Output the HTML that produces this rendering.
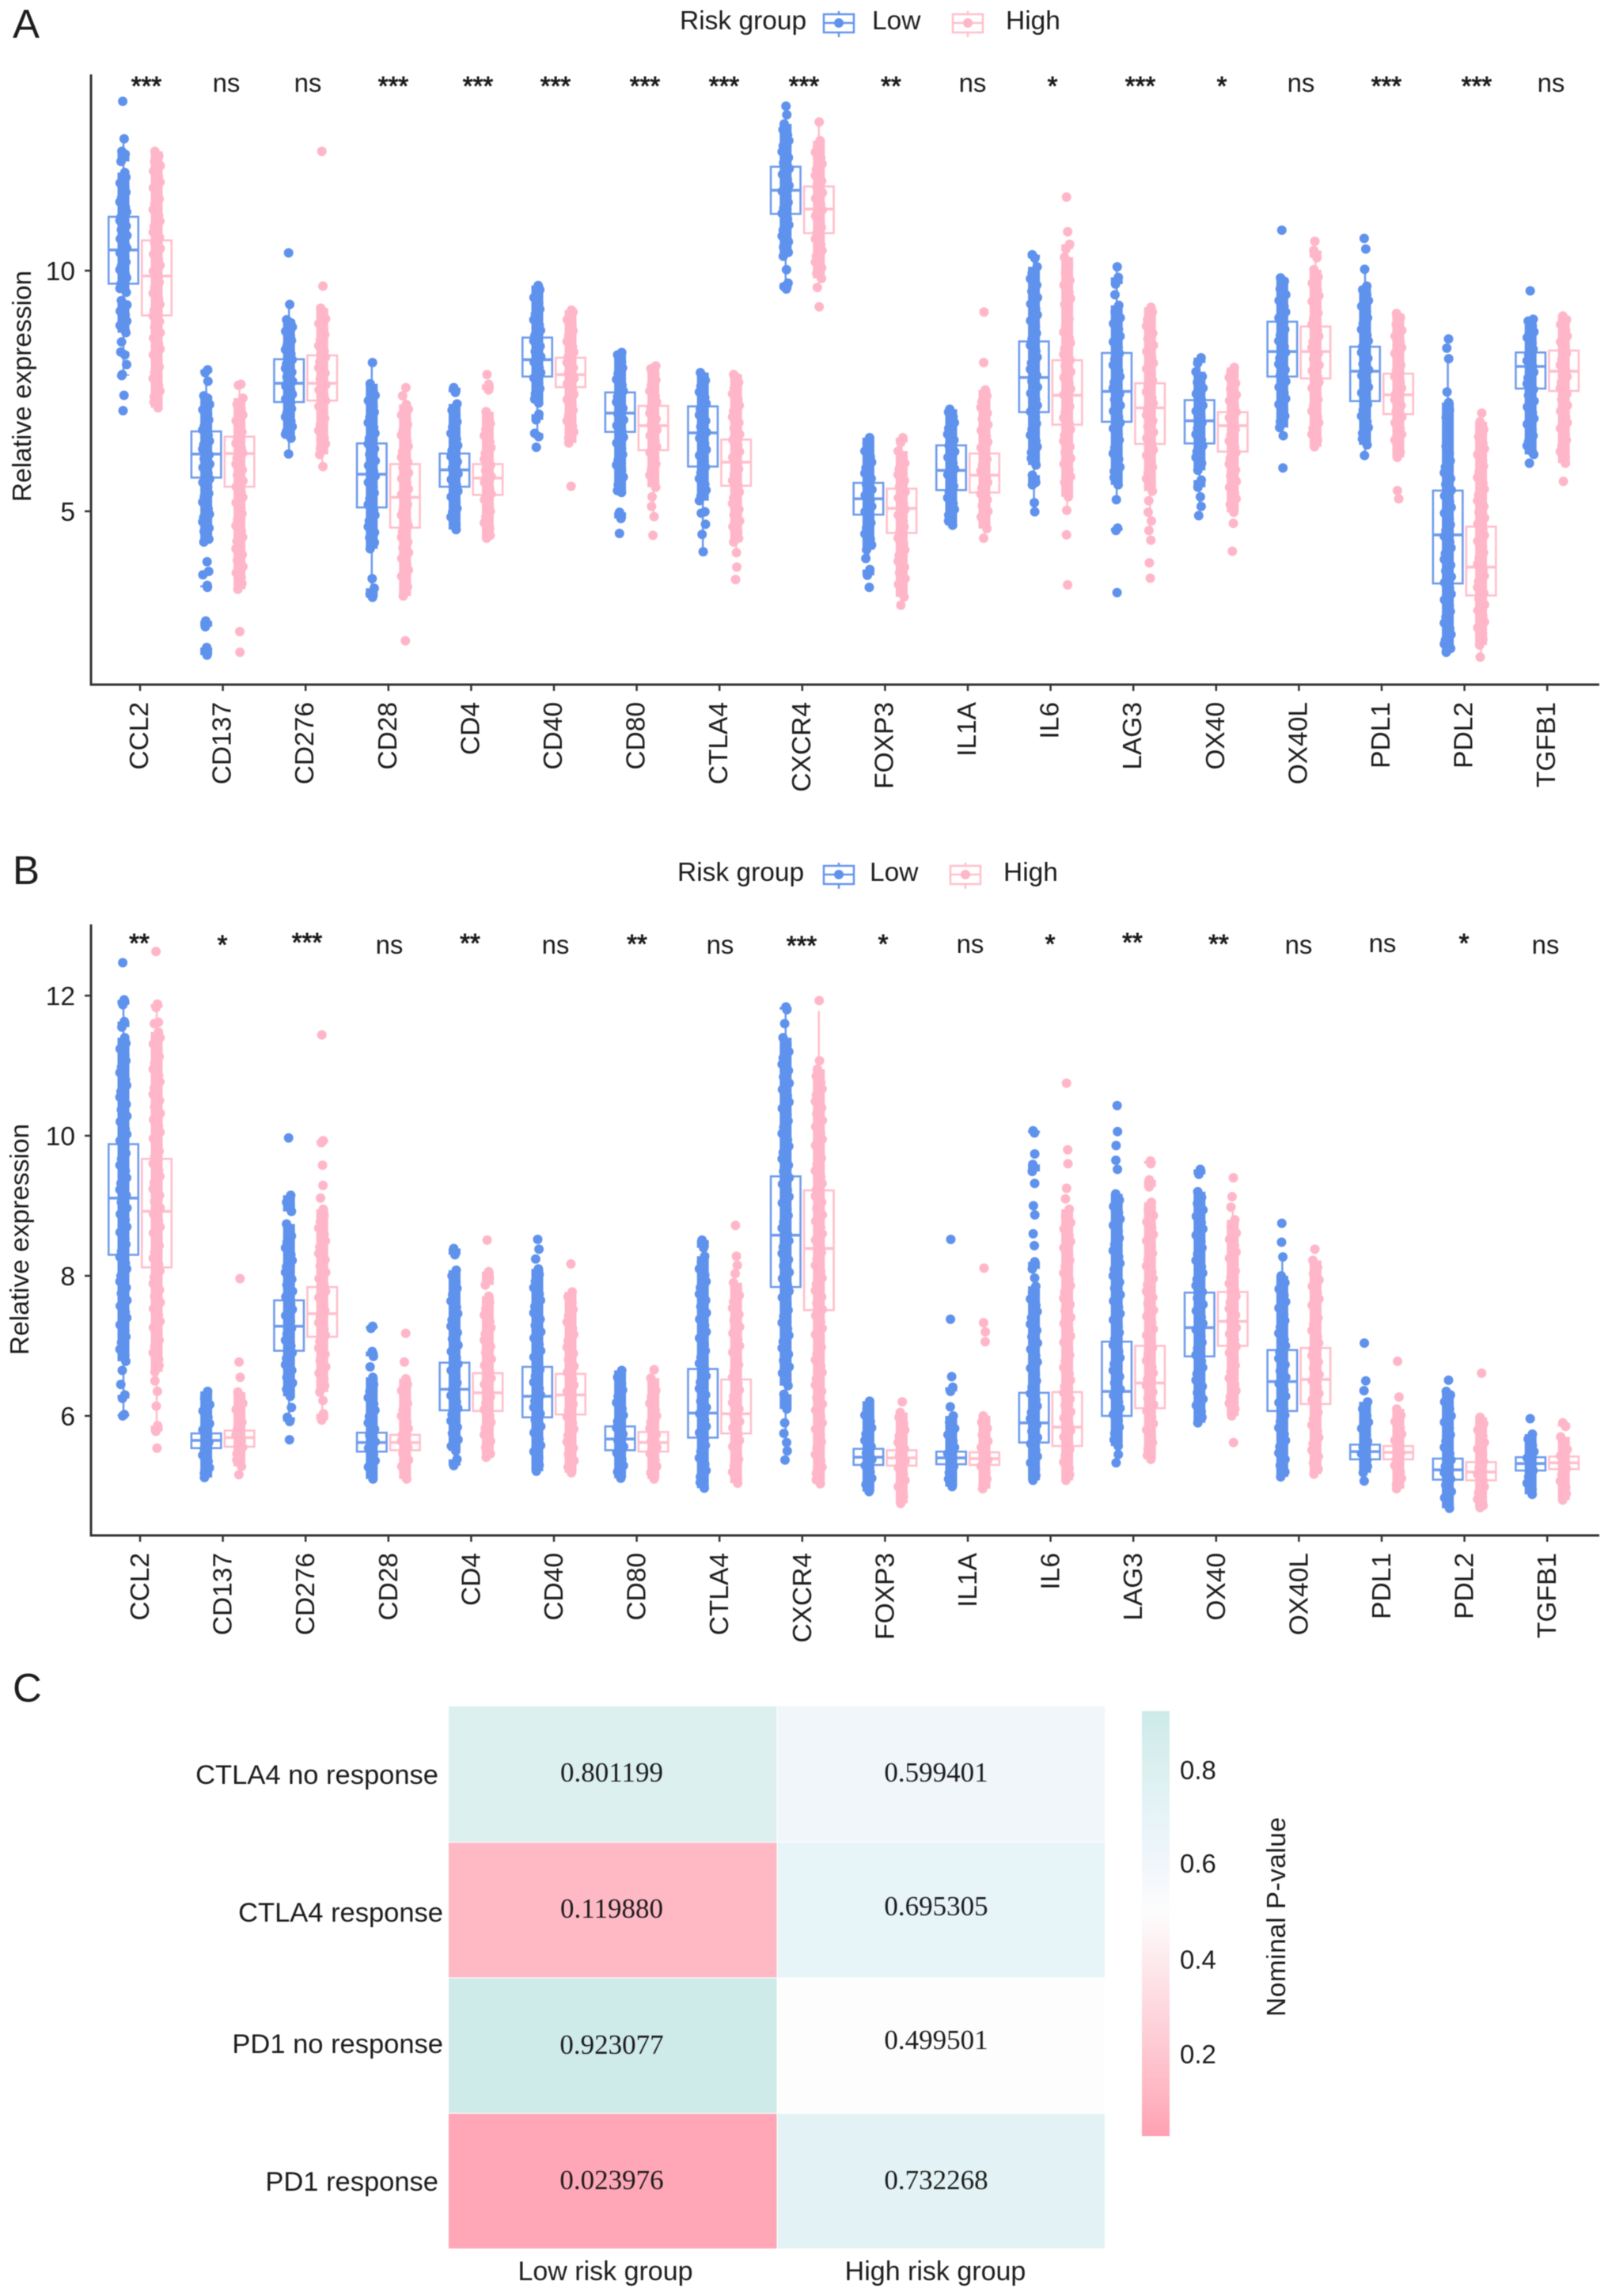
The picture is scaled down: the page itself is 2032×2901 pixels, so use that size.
<!DOCTYPE html>
<html lang="en">
<head>
<meta charset="utf-8">
<title>Immune checkpoint expression by risk group</title>
<style>
html,body{margin:0;padding:0;background:#fff;}
svg{display:block;filter:blur(0.6px);}
text{font-family:"Liberation Sans",sans-serif;fill:#1c1c1c;}
.t33{font-size:33.5px;}
.sig{font-size:33px;text-anchor:middle;}
.st{stroke:#1c1c1c;stroke-width:0.9px;}
.panel{font-size:51px;}
</style>
</head>
<body>
<svg id="fig" xmlns="http://www.w3.org/2000/svg" width="2032" height="2901" viewBox="0 0 2032 2901">
<defs>
<linearGradient id="cbar" x1="0" y1="0" x2="0" y2="1">
<stop offset="0" stop-color="#CDEBE9"/><stop offset="0.14" stop-color="#DCF0F0"/><stop offset="0.25" stop-color="#E7F4F8"/><stop offset="0.36" stop-color="#F1F6FB"/><stop offset="0.47" stop-color="#FDFDFD"/><stop offset="0.89" stop-color="#FFB9C5"/><stop offset="1" stop-color="#FFA0B2"/>
</linearGradient>
</defs>

<text class="panel" x="16" y="48">A</text>
<text class="panel" x="16" y="1117">B</text>
<text class="panel" x="16" y="2150">C</text>

<text class="t33" transform="translate(39,488) rotate(-90)" text-anchor="middle">Relative expression</text>
<text class="t33" transform="translate(36,1566) rotate(-90)" text-anchor="middle">Relative expression</text>

<g>
<text class="t33" x="859" y="37">Risk group</text>
<g>
<path d="M1060 14V47" stroke="#6495ED" stroke-width="2.5" fill="none"/><rect x="1041" y="18" width="38" height="23" fill="#fff" stroke="#6495ED" stroke-width="2.5"/><path d="M1041 29H1079" stroke="#6495ED" stroke-width="2.5"/><circle cx="1060" cy="29" r="6" fill="#5F92EC"/>
</g>
<text class="t33" x="1102" y="37">Low</text>
<g>
<path d="M1223 14V47" stroke="#FFC0CB" stroke-width="2.5" fill="none"/><rect x="1204" y="18" width="38" height="23" fill="#fff" stroke="#FFC0CB" stroke-width="2.5"/><path d="M1204 29H1242" stroke="#FFC0CB" stroke-width="2.5"/><circle cx="1223" cy="29" r="6" fill="#FFB6C8"/>
</g>
<text class="t33" x="1271" y="37">High</text>
</g>

<g>
<text class="t33" x="856" y="1113">Risk group</text>
<g>
<path d="M1060 1090V1123" stroke="#6495ED" stroke-width="2.5" fill="none"/><rect x="1041" y="1094" width="38" height="23" fill="#fff" stroke="#6495ED" stroke-width="2.5"/><path d="M1041 1105H1079" stroke="#6495ED" stroke-width="2.5"/><circle cx="1060" cy="1105" r="6" fill="#5F92EC"/>
</g>
<text class="t33" x="1099" y="1113">Low</text>
<g>
<path d="M1220 1090V1123" stroke="#FFC0CB" stroke-width="2.5" fill="none"/><rect x="1201" y="1094" width="38" height="23" fill="#fff" stroke="#FFC0CB" stroke-width="2.5"/><path d="M1201 1105H1239" stroke="#FFC0CB" stroke-width="2.5"/><circle cx="1220" cy="1105" r="6" fill="#FFB6C8"/>
</g>
<text class="t33" x="1268" y="1113">High</text>
</g>

<g>
<text class="sig st" x="185" y="120">***</text>
<text class="sig" x="286" y="116">ns</text>
<text class="sig" x="389" y="116">ns</text>
<text class="sig st" x="497" y="120">***</text>
<text class="sig st" x="604" y="120">***</text>
<text class="sig st" x="702" y="120">***</text>
<text class="sig st" x="815" y="120">***</text>
<text class="sig st" x="915" y="120">***</text>
<text class="sig st" x="1016" y="120">***</text>
<text class="sig st" x="1126" y="120">**</text>
<text class="sig" x="1229" y="116">ns</text>
<text class="sig st" x="1330" y="120">*</text>
<text class="sig st" x="1441" y="120">***</text>
<text class="sig st" x="1544" y="120">*</text>
<text class="sig" x="1644" y="116">ns</text>
<text class="sig st" x="1752" y="120">***</text>
<text class="sig st" x="1866" y="120">***</text>
<text class="sig" x="1960" y="116">ns</text>
</g>
<g>
<text class="sig st" x="176" y="1203">**</text>
<text class="sig st" x="281" y="1205">*</text>
<text class="sig st" x="388" y="1202">***</text>
<text class="sig" x="492" y="1205">ns</text>
<text class="sig st" x="594" y="1203">**</text>
<text class="sig" x="702" y="1205">ns</text>
<text class="sig st" x="805" y="1204">**</text>
<text class="sig" x="910" y="1205">ns</text>
<text class="sig st" x="1013" y="1206">***</text>
<text class="sig st" x="1116" y="1204">*</text>
<text class="sig" x="1226" y="1204">ns</text>
<text class="sig st" x="1327" y="1204">*</text>
<text class="sig st" x="1431" y="1202">**</text>
<text class="sig st" x="1540" y="1204">**</text>
<text class="sig" x="1641" y="1205">ns</text>
<text class="sig" x="1747" y="1203">ns</text>
<text class="sig st" x="1850" y="1203">*</text>
<text class="sig" x="1953" y="1205">ns</text>
</g>

<g id="plotA"></g>
<g id="plotB"></g>
<g id="heat"></g>

<rect x="1443" y="2162" width="35" height="537" fill="url(#cbar)"/>
<text class="t33" transform="translate(1624,2422) rotate(-90)" text-anchor="middle" textLength="252">Nominal P-value</text>
</svg>

<script>
const genes = ["CCL2","CD137","CD276","CD28","CD4","CD40","CD80","CTLA4","CXCR4","FOXP3","IL1A","IL6","LAG3","OX40","OX40L","PDL1","PDL2","TGFB1"];
const ticksA = [5,10];
const ticksB = [6,8,10,12];

// box stats per gene: [lower whisker, q1, median, q3, upper whisker]
const boxALow = [[7.82,9.73,10.43,11.12,12.74],[4.36,5.70,6.19,6.66,7.94],[6.19,7.27,7.66,8.16,9.30],[3.21,5.08,5.77,6.41,8.09],[4.62,5.51,5.86,6.20,7.23],[6.62,7.80,8.15,8.61,9.69],[5.43,6.65,7.04,7.47,8.30],[4.16,5.93,6.63,7.18,7.88],[9.74,11.18,11.67,12.16,13.42],[4.02,4.93,5.26,5.59,6.53],[4.71,5.44,5.85,6.37,7.12],[4.99,7.06,7.78,8.53,10.33],[5.24,6.86,7.49,8.29,10.08],[5.10,6.41,6.88,7.31,8.19],[6.57,7.80,8.32,8.94,9.85],[6.16,7.29,7.91,8.42,10.03],[2.07,3.50,4.51,5.43,8.17],[6.45,7.55,8.01,8.30,8.99]];
const boxAHigh = [[7.15,9.07,9.89,10.63,12.48],[3.95,5.51,6.20,6.55,7.64],[5.93,7.30,7.66,8.24,9.22],[3.24,4.66,5.29,5.98,7.57],[4.44,5.34,5.69,5.98,6.94],[6.66,7.58,7.84,8.19,9.10],[4.89,6.27,6.78,7.19,8.02],[4.14,5.53,6.02,6.49,7.84],[9.65,10.78,11.28,11.75,13.09],[3.22,4.55,5.06,5.47,6.53],[4.44,5.39,5.75,6.20,7.40],[5.02,6.80,7.41,8.14,10.15],[4.60,6.40,7.15,7.66,9.24],[5.14,6.24,6.78,7.06,7.99],[6.34,7.76,8.32,8.84,10.42],[6.12,7.02,7.42,7.86,9.11],[1.97,3.25,3.84,4.68,6.86],[6.24,7.50,7.91,8.34,9.06]];
const boxBLow = [[6.00,8.30,9.11,9.88,11.94],[5.23,5.54,5.65,5.75,6.06],[5.94,6.93,7.28,7.65,8.73],[5.10,5.49,5.62,5.76,6.16],[5.29,6.08,6.38,6.76,7.78],[5.21,5.98,6.28,6.70,7.78],[5.11,5.51,5.67,5.85,6.36],[5.00,5.69,6.04,6.67,8.14],[5.47,7.84,8.58,9.42,11.80],[4.95,5.30,5.41,5.53,5.87],[5.04,5.31,5.40,5.49,5.76],[5.08,5.62,5.90,6.33,7.40],[5.33,6.00,6.35,7.06,8.65],[5.98,6.85,7.26,7.76,9.12],[5.13,6.07,6.49,6.94,8.24],[5.07,5.38,5.49,5.59,5.90],[4.68,5.09,5.23,5.39,5.84],[4.94,5.22,5.32,5.41,5.69]];
const boxBHigh = [[5.79,8.12,8.92,9.67,11.88],[5.22,5.56,5.69,5.79,6.14],[6.07,7.13,7.46,7.84,8.90],[5.18,5.51,5.62,5.73,6.06],[5.41,6.07,6.33,6.61,7.42],[5.19,6.02,6.30,6.60,7.47],[5.10,5.49,5.62,5.77,6.19],[5.04,5.75,6.03,6.52,7.67],[5.03,7.51,8.39,9.22,11.78],[4.96,5.29,5.40,5.51,5.84],[5.03,5.30,5.39,5.48,5.75],[5.08,5.57,5.84,6.34,7.49],[5.38,6.11,6.47,7.00,8.33],[6.00,7.00,7.35,7.77,8.92],[5.17,6.17,6.52,6.97,8.17],[5.10,5.38,5.48,5.57,5.85],[4.69,5.08,5.20,5.34,5.73],[4.97,5.24,5.33,5.42,5.69]];

// individual sample values per gene, panel A
const pointsALow = [
[13.52,12.74,12.48,12.42,12.27,12.04,11.94,11.82,11.74,11.63,11.51,11.43,11.32,11.22,11.11,11.04,10.93,10.85,10.73,10.66,10.54,10.47,10.37,10.29,10.18,10.1,10.02,9.92,9.85,9.72,9.63,9.55,9.38,9.29,9.16,9.08,8.95,8.86,8.78,8.71,8.52,8.31,8.25,8.05,7.84,7.82,7.41,7.09],
[7.94,7.88,7.7,7.4,7.35,7.22,7.11,7.01,6.9,6.77,6.69,6.58,6.46,6.38,6.29,6.17,6.09,5.98,5.91,5.79,5.67,5.6,5.5,5.37,5.3,5.19,5.05,4.94,4.87,4.78,4.65,4.58,4.42,4.36,3.95,3.75,3.68,3.46,3.42,2.72,2.6,2.17,2.01],
[10.37,9.3,8.98,8.92,8.83,8.74,8.63,8.55,8.44,8.36,8.27,8.15,8.06,7.97,7.89,7.79,7.7,7.6,7.51,7.43,7.33,7.24,7.13,7.05,6.96,6.87,6.76,6.66,6.6,6.52,6.19],
[8.09,7.65,7.5,7.41,7.3,7.18,7.06,6.95,6.84,6.74,6.62,6.51,6.4,6.3,6.18,6.05,5.95,5.83,5.73,5.6,5.5,5.38,5.26,5.14,5.02,4.92,4.8,4.68,4.56,4.45,4.35,4.22,3.6,3.4,3.28,3.21],
[7.57,7.47,7.23,7.1,6.98,6.86,6.75,6.62,6.5,6.37,6.26,6.14,6.03,5.9,5.78,5.66,5.55,5.42,5.3,5.18,5.06,4.98,4.88,4.72,4.62],
[9.69,9.6,9.44,9.32,9.2,9.1,8.98,8.87,8.76,8.65,8.54,8.43,8.32,8.21,8.1,7.99,7.88,7.77,7.66,7.55,7.44,7.33,7.25,7.02,6.9,6.62,6.55,6.33],
[8.3,8.25,8.1,7.98,7.86,7.74,7.62,7.5,7.38,7.27,7.14,7.02,6.9,6.78,6.66,6.54,6.42,6.3,6.18,6.06,5.96,5.85,5.71,5.55,5.43,5.39,4.98,4.85,4.54],
[7.88,7.8,7.72,7.6,7.48,7.36,7.24,7.12,7.0,6.88,6.76,6.64,6.52,6.4,6.28,6.16,6.04,5.92,5.8,5.68,5.56,5.44,5.32,5.22,4.99,4.96,4.73,4.52,4.16],
[13.42,13.24,13.05,12.93,12.82,12.7,12.59,12.47,12.35,12.24,12.12,12.0,11.89,11.77,11.65,11.54,11.42,11.3,11.19,11.07,10.95,10.84,10.72,10.6,10.49,10.38,10.3,10.02,9.74,9.67,9.62],
[6.53,6.41,6.25,6.13,6.02,5.9,5.79,5.68,5.56,5.45,5.33,5.22,5.1,4.99,4.87,4.76,4.65,4.53,4.42,4.3,4.2,4.02,3.79,3.67,3.42],
[7.12,7.06,6.96,6.84,6.72,6.6,6.48,6.36,6.24,6.12,6.0,5.88,5.76,5.64,5.52,5.4,5.28,5.16,5.04,4.92,4.8,4.71],
[10.33,10.26,10.08,9.95,9.83,9.7,9.57,9.44,9.31,9.2,9.08,8.96,8.83,8.7,8.58,8.45,8.33,8.2,8.08,7.95,7.82,7.7,7.58,7.45,7.32,7.2,7.07,6.95,6.82,6.7,6.58,6.46,6.34,6.22,6.1,5.96,5.75,5.6,5.55,5.18,4.99],
[10.08,9.86,9.72,9.5,9.28,9.14,9.02,8.9,8.78,8.64,8.52,8.4,8.28,8.16,8.04,7.92,7.8,7.68,7.56,7.44,7.32,7.2,7.08,6.96,6.84,6.72,6.6,6.48,6.32,6.2,6.08,5.92,5.83,5.7,5.55,5.24,4.65,4.6,3.31],
[8.19,8.08,7.9,7.8,7.68,7.56,7.44,7.32,7.2,7.08,6.96,6.84,6.72,6.6,6.48,6.36,6.24,6.12,6.0,5.85,5.65,5.5,5.3,5.1,4.91],
[10.84,9.85,9.78,9.62,9.5,9.38,9.26,9.14,9.02,8.9,8.78,8.66,8.54,8.42,8.3,8.18,8.06,7.94,7.82,7.7,7.58,7.46,7.34,7.22,7.1,6.98,6.86,6.74,6.57,5.9],
[10.67,10.45,10.03,9.68,9.6,9.5,9.38,9.26,9.14,9.02,8.9,8.78,8.66,8.54,8.42,8.3,8.18,8.06,7.94,7.82,7.7,7.58,7.46,7.34,7.22,7.1,6.98,6.86,6.74,6.62,6.5,6.38,6.16],
[8.58,8.39,8.17,7.48,7.26,7.1,6.95,6.8,6.65,6.5,6.35,6.2,6.05,5.92,5.8,5.68,5.56,5.44,5.32,5.2,5.08,4.96,4.84,4.72,4.6,4.48,4.36,4.24,4.12,4.0,3.88,3.76,3.64,3.52,3.4,3.28,3.16,3.04,2.92,2.8,2.68,2.56,2.44,2.32,2.24,2.15,2.07],
[9.58,8.99,8.95,8.85,8.73,8.61,8.49,8.37,8.25,8.13,8.01,7.89,7.77,7.65,7.53,7.41,7.29,7.17,7.05,6.93,6.81,6.69,6.57,6.45,6.36,6.22,6.18,6.0]
];
const pointsAHigh = [
[12.48,12.39,12.27,12.18,12.07,11.96,11.84,11.72,11.61,11.49,11.38,11.27,11.15,11.03,10.92,10.8,10.69,10.58,10.46,10.34,10.23,10.11,9.99,9.88,9.76,9.65,9.53,9.41,9.3,9.18,9.06,8.94,8.83,8.71,8.6,8.48,8.37,8.25,8.12,8.0,7.88,7.76,7.62,7.5,7.38,7.27,7.15],
[7.64,7.62,7.35,7.22,7.1,7.0,6.88,6.76,6.65,6.52,6.41,6.3,6.21,6.1,5.98,5.86,5.75,5.63,5.51,5.4,5.29,5.18,5.06,4.95,4.82,4.7,4.58,4.46,4.38,4.22,4.1,3.98,3.85,3.72,3.62,3.5,3.38,2.5,2.07],
[12.48,9.68,9.22,9.15,9.0,8.9,8.78,8.67,8.56,8.44,8.33,8.2,8.1,7.98,7.87,7.75,7.63,7.52,7.4,7.3,7.18,7.05,6.93,6.8,6.68,6.52,6.4,6.3,6.18,5.93],
[7.57,7.4,7.22,7.12,7.0,6.9,6.8,6.68,6.58,6.46,6.35,6.24,6.12,6.02,5.9,5.8,5.68,5.58,5.46,5.35,5.24,5.14,5.02,4.92,4.8,4.7,4.58,4.46,4.36,4.24,4.14,4.02,3.9,3.78,3.65,3.55,3.43,3.28,3.24,2.31],
[7.84,7.64,7.52,7.07,6.95,6.82,6.7,6.57,6.44,6.32,6.2,6.08,5.96,5.84,5.72,5.6,5.48,5.36,5.24,5.12,5.0,4.88,4.76,4.64,4.5,4.44],
[9.18,9.14,8.98,8.86,8.75,8.64,8.53,8.42,8.31,8.2,8.09,7.98,7.87,7.76,7.65,7.54,7.43,7.32,7.21,7.1,6.99,6.88,6.77,6.65,6.52,6.42,5.52],
[8.02,7.96,7.85,7.73,7.62,7.5,7.38,7.27,7.15,7.04,6.92,6.8,6.69,6.57,6.46,6.34,6.22,6.1,5.98,5.87,5.75,5.63,5.5,5.3,5.1,4.89,4.5],
[7.84,7.78,7.68,7.56,7.44,7.32,7.2,7.08,6.96,6.84,6.72,6.6,6.48,6.36,6.24,6.12,6.0,5.88,5.76,5.64,5.52,5.4,5.28,5.16,5.04,4.92,4.8,4.68,4.56,4.44,4.36,4.14,3.84,3.58],
[13.09,12.7,12.58,12.46,12.34,12.22,12.1,11.98,11.86,11.74,11.62,11.5,11.38,11.26,11.14,11.02,10.9,10.78,10.66,10.54,10.42,10.3,10.18,10.06,9.94,9.84,9.65,9.25],
[6.53,6.43,6.25,6.12,6.0,5.88,5.76,5.64,5.52,5.4,5.28,5.16,5.04,4.92,4.8,4.68,4.56,4.44,4.32,4.2,4.08,3.96,3.84,3.72,3.6,3.48,3.36,3.22,3.05],
[9.14,8.09,7.52,7.4,7.28,7.16,7.04,6.92,6.8,6.68,6.56,6.44,6.32,6.2,6.08,5.96,5.84,5.72,5.6,5.48,5.36,5.24,5.12,5.0,4.88,4.76,4.64,4.44],
[11.53,10.81,10.55,10.45,10.28,10.12,9.96,9.8,9.7,9.55,9.42,9.3,9.16,9.0,8.85,8.72,8.6,8.5,8.38,8.26,8.14,8.02,7.9,7.78,7.66,7.54,7.42,7.3,7.18,7.06,6.94,6.82,6.7,6.58,6.46,6.34,6.22,6.1,5.98,5.86,5.72,5.6,5.45,5.3,5.02,4.51,3.47],
[9.24,9.14,8.98,8.85,8.7,8.58,8.45,8.32,8.2,8.08,7.96,7.84,7.72,7.6,7.48,7.36,7.24,7.12,7.0,6.88,6.76,6.64,6.52,6.4,6.28,6.16,6.04,5.92,5.8,5.68,5.56,5.42,5.22,4.98,4.8,4.6,4.4,3.93,3.61],
[7.99,7.9,7.78,7.66,7.54,7.42,7.3,7.18,7.06,6.94,6.82,6.7,6.58,6.46,6.34,6.22,6.1,5.98,5.86,5.74,5.62,5.5,5.38,5.26,5.14,4.98,4.75,4.17],
[10.61,10.42,10.27,10.02,9.87,9.74,9.6,9.48,9.36,9.24,9.12,9.0,8.88,8.76,8.64,8.52,8.4,8.28,8.16,8.04,7.92,7.8,7.68,7.56,7.44,7.32,7.2,7.08,6.96,6.84,6.72,6.6,6.48,6.34],
[9.11,9.02,8.88,8.76,8.64,8.52,8.4,8.28,8.16,8.04,7.92,7.8,7.68,7.56,7.44,7.32,7.2,7.08,6.96,6.84,6.72,6.6,6.48,6.36,6.24,6.12,5.43,5.26],
[7.04,6.86,6.7,6.55,6.42,6.3,6.18,6.06,5.94,5.82,5.7,5.58,5.46,5.34,5.22,5.1,4.98,4.86,4.74,4.62,4.5,4.38,4.26,4.14,4.02,3.9,3.78,3.66,3.54,3.42,3.3,3.18,3.06,2.94,2.82,2.7,2.58,2.46,2.34,2.22,1.97],
[9.06,8.98,8.88,8.76,8.64,8.52,8.4,8.28,8.16,8.04,7.92,7.8,7.68,7.56,7.44,7.32,7.2,7.08,6.96,6.84,6.72,6.6,6.48,6.36,6.24,6.12,6.0,5.62]
];

// individual sample values per gene, panel B
const pointsBLow = [
[12.47,11.94,11.87,11.63,11.55,11.4,11.32,11.24,11.15,11.07,10.98,10.9,10.8,10.72,10.63,10.55,10.45,10.37,10.28,10.2,10.1,10.02,9.93,9.85,9.75,9.67,9.58,9.5,9.4,9.32,9.23,9.15,9.05,8.97,8.88,8.8,8.7,8.62,8.53,8.45,8.35,8.27,8.18,8.1,8.0,7.92,7.83,7.75,7.65,7.57,7.48,7.4,7.3,7.22,7.13,7.05,6.95,6.87,6.78,6.65,6.45,6.3,6.25,6.02,6.0],
[6.35,6.25,6.16,6.07,5.98,5.89,5.8,5.71,5.62,5.53,5.44,5.35,5.26,5.18,5.12],
[9.97,9.15,9.05,9.0,8.92,8.74,8.65,8.57,8.48,8.4,8.3,8.22,8.13,8.05,7.95,7.87,7.78,7.7,7.6,7.52,7.43,7.35,7.25,7.17,7.08,7.0,6.9,6.82,6.73,6.65,6.55,6.47,6.38,6.28,6.12,5.98,5.92,5.66],
[7.28,7.25,6.92,6.85,6.7,6.55,6.45,6.35,6.26,6.17,6.08,5.99,5.9,5.81,5.72,5.63,5.54,5.45,5.36,5.27,5.18,5.1],
[8.39,8.3,8.08,8.0,7.91,7.82,7.73,7.64,7.55,7.46,7.37,7.28,7.19,7.1,7.01,6.92,6.83,6.74,6.65,6.56,6.47,6.38,6.29,6.2,6.11,6.02,5.93,5.84,5.75,5.66,5.57,5.5,5.38,5.29],
[8.52,8.38,8.24,8.1,8.02,7.92,7.83,7.74,7.65,7.56,7.47,7.38,7.29,7.2,7.11,7.02,6.93,6.84,6.75,6.66,6.57,6.48,6.39,6.3,6.21,6.12,6.03,5.94,5.85,5.76,5.67,5.58,5.49,5.4,5.3,5.21],
[6.65,6.55,6.46,6.37,6.28,6.19,6.1,6.01,5.92,5.83,5.74,5.65,5.56,5.47,5.38,5.29,5.2,5.11],
[8.51,8.4,8.28,8.19,8.1,8.01,7.92,7.83,7.74,7.65,7.56,7.47,7.38,7.29,7.2,7.11,7.02,6.93,6.84,6.75,6.66,6.57,6.48,6.39,6.3,6.21,6.12,6.03,5.94,5.85,5.76,5.67,5.58,5.49,5.4,5.31,5.22,5.13,5.05,4.97],
[11.84,11.8,11.6,11.4,11.3,11.2,11.11,11.02,10.93,10.84,10.75,10.66,10.57,10.48,10.39,10.3,10.21,10.12,10.03,9.94,9.85,9.76,9.67,9.58,9.49,9.4,9.31,9.22,9.13,9.04,8.95,8.86,8.77,8.68,8.59,8.5,8.41,8.32,8.23,8.14,8.05,7.96,7.87,7.78,7.69,7.6,7.51,7.42,7.33,7.24,7.15,7.06,6.97,6.88,6.79,6.7,6.61,6.52,6.43,6.31,6.2,6.1,5.9,5.75,5.62,5.5,5.37],
[6.21,6.1,6.01,5.92,5.83,5.74,5.65,5.56,5.47,5.38,5.29,5.2,5.11,5.02,4.92],
[8.52,7.38,6.56,6.41,6.35,6.13,6.0,5.91,5.82,5.73,5.64,5.55,5.46,5.37,5.28,5.19,5.1,4.99],
[10.07,10.04,9.74,9.59,9.49,9.32,9.0,8.87,8.6,8.43,8.2,8.1,7.97,7.85,7.76,7.67,7.58,7.49,7.4,7.31,7.22,7.13,7.04,6.95,6.86,6.77,6.68,6.59,6.5,6.41,6.32,6.23,6.14,6.05,5.96,5.87,5.78,5.69,5.6,5.51,5.42,5.33,5.24,5.15,5.08],
[10.43,10.06,9.86,9.65,9.52,9.17,9.08,8.99,8.9,8.81,8.72,8.63,8.54,8.45,8.36,8.27,8.18,8.09,8.0,7.91,7.82,7.73,7.64,7.55,7.46,7.37,7.28,7.19,7.1,7.01,6.92,6.83,6.74,6.65,6.56,6.47,6.38,6.29,6.2,6.11,6.02,5.93,5.84,5.75,5.66,5.57,5.45,5.33],
[9.52,9.45,9.2,9.12,9.03,8.94,8.85,8.76,8.67,8.58,8.49,8.4,8.31,8.22,8.13,8.04,7.95,7.86,7.77,7.68,7.59,7.5,7.41,7.32,7.23,7.14,7.05,6.96,6.87,6.78,6.69,6.6,6.51,6.42,6.33,6.24,6.15,6.06,5.98,5.9],
[8.75,8.48,8.27,8.0,7.9,7.81,7.72,7.63,7.54,7.45,7.36,7.27,7.18,7.09,7.0,6.91,6.82,6.73,6.64,6.55,6.46,6.37,6.28,6.19,6.1,6.01,5.92,5.83,5.74,5.65,5.56,5.47,5.38,5.29,5.2,5.13],
[7.04,6.5,6.36,6.2,6.1,6.0,5.91,5.82,5.73,5.64,5.55,5.46,5.37,5.28,5.19,5.07],
[6.51,6.35,6.3,6.2,6.1,6.0,5.91,5.82,5.73,5.64,5.55,5.46,5.37,5.28,5.19,5.1,5.01,4.92,4.83,4.74,4.68],
[5.96,5.74,5.67,5.58,5.49,5.4,5.31,5.22,5.13,5.04,4.95,4.88]
];
const pointsBHigh = [
[12.63,11.88,11.83,11.62,11.6,11.48,11.4,11.31,11.22,11.13,11.04,10.95,10.86,10.77,10.68,10.59,10.5,10.41,10.32,10.23,10.14,10.05,9.96,9.87,9.78,9.69,9.6,9.51,9.42,9.33,9.24,9.15,9.06,8.97,8.88,8.79,8.7,8.61,8.52,8.43,8.34,8.25,8.16,8.07,7.98,7.89,7.8,7.71,7.62,7.53,7.44,7.35,7.26,7.17,7.08,6.99,6.9,6.81,6.72,6.63,6.5,6.35,6.14,5.86,5.78,5.54],
[7.96,6.77,6.55,6.34,6.27,6.18,6.09,6.0,5.91,5.82,5.73,5.64,5.55,5.46,5.37,5.28,5.16],
[11.44,9.93,9.9,9.58,9.29,9.11,8.95,8.86,8.77,8.68,8.59,8.5,8.41,8.32,8.23,8.14,8.05,7.96,7.87,7.78,7.69,7.6,7.51,7.42,7.33,7.24,7.15,7.06,6.97,6.88,6.79,6.7,6.61,6.52,6.43,6.34,6.22,6.03,5.94],
[7.18,6.77,6.53,6.45,6.36,6.27,6.18,6.09,6.0,5.91,5.82,5.73,5.64,5.55,5.46,5.37,5.28,5.19,5.1],
[8.51,8.06,7.97,7.87,7.71,7.62,7.53,7.44,7.35,7.26,7.17,7.08,6.99,6.9,6.81,6.72,6.63,6.54,6.45,6.36,6.27,6.18,6.09,6.0,5.91,5.82,5.73,5.64,5.55,5.46,5.41],
[8.17,7.77,7.7,7.61,7.52,7.43,7.34,7.25,7.16,7.07,6.98,6.89,6.8,6.71,6.62,6.53,6.44,6.35,6.26,6.17,6.08,5.99,5.9,5.81,5.72,5.63,5.54,5.45,5.36,5.27,5.19],
[6.66,6.54,6.45,6.36,6.27,6.18,6.09,6.0,5.91,5.82,5.73,5.64,5.55,5.46,5.37,5.28,5.19,5.1],
[8.72,8.28,8.15,8.03,7.9,7.81,7.72,7.63,7.54,7.45,7.36,7.27,7.18,7.09,7.0,6.91,6.82,6.73,6.64,6.55,6.46,6.37,6.28,6.19,6.1,6.01,5.92,5.83,5.74,5.65,5.56,5.47,5.38,5.29,5.2,5.11,5.04],
[11.93,11.07,10.95,10.85,10.76,10.67,10.58,10.49,10.4,10.31,10.22,10.13,10.04,9.95,9.86,9.77,9.68,9.59,9.5,9.41,9.32,9.23,9.14,9.05,8.96,8.87,8.78,8.69,8.6,8.51,8.42,8.33,8.24,8.15,8.06,7.97,7.88,7.79,7.7,7.61,7.52,7.43,7.34,7.25,7.16,7.07,6.98,6.89,6.8,6.71,6.62,6.53,6.44,6.35,6.26,6.17,6.08,5.99,5.9,5.81,5.72,5.63,5.54,5.45,5.36,5.27,5.18,5.09,5.03],
[6.2,6.05,5.98,5.89,5.8,5.71,5.62,5.53,5.44,5.35,5.26,5.17,5.08,4.99,4.9,4.85,4.75],
[8.11,7.33,7.2,7.06,6.0,5.91,5.82,5.73,5.64,5.55,5.46,5.37,5.28,5.19,5.1,5.01,4.96],
[10.75,9.8,9.6,9.25,9.1,8.95,8.85,8.76,8.67,8.58,8.49,8.4,8.31,8.22,8.13,8.04,7.95,7.86,7.77,7.68,7.59,7.5,7.41,7.32,7.23,7.14,7.05,6.96,6.87,6.78,6.69,6.6,6.51,6.42,6.33,6.24,6.15,6.06,5.97,5.88,5.79,5.7,5.61,5.52,5.43,5.34,5.25,5.16,5.08],
[9.64,9.6,9.37,9.27,9.05,8.95,8.86,8.77,8.68,8.59,8.5,8.41,8.32,8.23,8.14,8.05,7.96,7.87,7.78,7.69,7.6,7.51,7.42,7.33,7.24,7.15,7.06,6.97,6.88,6.79,6.7,6.61,6.52,6.43,6.34,6.25,6.16,6.07,5.98,5.89,5.8,5.71,5.62,5.53,5.44,5.38],
[9.4,9.13,8.98,8.8,8.7,8.61,8.52,8.43,8.34,8.25,8.16,8.07,7.98,7.89,7.8,7.71,7.62,7.53,7.44,7.35,7.26,7.17,7.08,6.99,6.9,6.81,6.72,6.63,6.54,6.45,6.36,6.27,6.18,6.1,6.0,5.62],
[8.38,8.22,8.12,8.03,7.94,7.85,7.76,7.67,7.58,7.49,7.4,7.31,7.22,7.13,7.04,6.95,6.86,6.77,6.68,6.59,6.5,6.41,6.32,6.23,6.14,6.05,5.96,5.87,5.78,5.69,5.6,5.51,5.42,5.33,5.24,5.17],
[6.78,6.27,6.1,6.01,5.92,5.83,5.74,5.65,5.56,5.47,5.38,5.29,5.2,5.11,5.02,4.96],
[6.61,5.98,5.89,5.8,5.71,5.62,5.53,5.44,5.35,5.26,5.17,5.08,4.99,4.9,4.81,4.72,4.69],
[5.9,5.85,5.7,5.61,5.52,5.43,5.34,5.25,5.16,5.07,4.98,4.89,4.8]
];

// panel C
const heatRows = ["CTLA4 no response","CTLA4 response","PD1 no response","PD1 response"];
const heatCols = ["Low risk group","High risk group"];
const heatLow = [0.801199,0.119880,0.923077,0.023976];
const heatHigh = [0.599401,0.695305,0.499501,0.732268];
const heatLowLabels = ["0.801199","0.119880","0.923077","0.023976"];
const heatHighLabels = ["0.599401","0.695305","0.499501","0.732268"];
const colorbarTicks = [0.2,0.4,0.6,0.8];

const SVGNS = "http://www.w3.org/2000/svg";
function mk(tag,parent){ const e=document.createElementNS(SVGNS,tag); parent.appendChild(e); return e; }
function slug(s){ return s.toLowerCase().replace(/[^a-z0-9]+/g,'-'); }

const COLORS = {low:{line:"#6F9CEC",dot:"#5F92EC"},high:{line:"#FFC0CB",dot:"#FFB6C8"}};
const xBand = i => 177 + 104.6*i;
const DODGE = 21, BOXW = 37.5;
const yA = v => 342 - (v-10)*60.8;
const yB = v => 1258 - (v-12)*88.5;
const jitter = [-1,0.8,-0.6,1,-0.9,0.5,0.95,-0.95,0.4,0.7,-0.55,-1,0.55,0.9,-0.7];

function drawPanel(root,tag,yFn,ticks,axisTop,axisBottom,labelTop,labelShift,series){
  const AXL=115, AXR=2021;
  series.forEach(s=>{
    const sign = s.group==="low" ? -1 : 1;
    s.box.forEach((b,i)=>{
      const cx = xBand(i)+sign*DODGE;
      const gene = slug(genes[i]);
      const g = mk('g',root);
      
      
      const wh = mk('line',g);
      wh.setAttribute('x1',cx); wh.setAttribute('x2',cx);
      wh.setAttribute('y1',yFn(b[4])); wh.setAttribute('y2',yFn(b[0]));
      wh.setAttribute('stroke',COLORS[s.group].line); wh.setAttribute('stroke-width',2.6);
      
      
      const r = mk('rect',g);
      r.setAttribute('x',cx-BOXW/2); r.setAttribute('width',BOXW);
      r.setAttribute('y',yFn(b[3])); r.setAttribute('height',yFn(b[1])-yFn(b[3]));
      r.setAttribute('fill','#fff'); r.setAttribute('stroke',COLORS[s.group].line); r.setAttribute('stroke-width',2.6);
      
      
      const m = mk('line',g);
      m.setAttribute('x1',cx-BOXW/2); m.setAttribute('x2',cx+BOXW/2);
      m.setAttribute('y1',yFn(b[2])); m.setAttribute('y2',yFn(b[2]));
      m.setAttribute('stroke',COLORS[s.group].line); m.setAttribute('stroke-width',3.6);
      
      
    });
  });
  series.forEach(s=>{
    const sign = s.group==="low" ? -1 : 1;
    s.points.forEach((vals,i)=>{
      const cx = xBand(i)+sign*DODGE;
      const ys = vals.map(yFn);
      const g = mk('g',root);
      
      
      // dense stretches of the swarm merge into a solid column
      let d='';
      ys.forEach((py,k)=>{ if(k+1<ys.length && ys[k+1]-py<=10) d+=`M${cx} ${py.toFixed(1)}V${ys[k+1].toFixed(1)}`; });
      const band = mk('path',g);
      band.setAttribute('d',d);
      band.setAttribute('fill','none');
      band.setAttribute('stroke',COLORS[s.group].dot);
      band.setAttribute('stroke-width',15);
      
      
      ys.forEach((py,k)=>{
        let near=0;
        ys.forEach(q=>{ if(Math.abs(q-py)<=18) near++; });
        const spread = Math.min(1,(near-1)/4);
        const c = mk('circle',g);
        c.setAttribute('cx',(cx + jitter[(k+i)%jitter.length]*4.4*Math.max(spread,0.2)).toFixed(1));
        c.setAttribute('cy',py.toFixed(1));
        c.setAttribute('r',6);
        c.setAttribute('fill',COLORS[s.group].dot);
        
        
      });
    });
  });
  const ax = mk('path',root);
  ax.setAttribute('d',`M${AXL} ${axisTop}V${axisBottom}H${AXR}`);
  ax.setAttribute('fill','none'); ax.setAttribute('stroke','#333'); ax.setAttribute('stroke-width',3);
  
  
  ticks.forEach(t=>{
    const y=yFn(t);
    const l=mk('line',root);
    l.setAttribute('x1',AXL-8); l.setAttribute('x2',AXL); l.setAttribute('y1',y); l.setAttribute('y2',y);
    l.setAttribute('stroke','#333'); l.setAttribute('stroke-width',2.5);
    
    
    const tx=mk('text',root);
    tx.textContent=t;
    tx.setAttribute('x',AXL-20); tx.setAttribute('y',y+12); tx.setAttribute('text-anchor','end'); tx.setAttribute('font-size','33.5');
    
    
  });
  genes.forEach((g,i)=>{
    const x=xBand(i);
    const l=mk('line',root);
    l.setAttribute('x1',x); l.setAttribute('x2',x); l.setAttribute('y1',axisBottom); l.setAttribute('y2',axisBottom+8);
    l.setAttribute('stroke','#333'); l.setAttribute('stroke-width',2.5);
    
    
    const tx=mk('text',root);
    tx.textContent=g;
    tx.setAttribute('transform',`translate(${x+labelShift},${labelTop}) rotate(-90)`);
    tx.setAttribute('text-anchor','end'); tx.setAttribute('font-size','33.5');
    
    
  });
}

drawPanel(document.getElementById('plotA'),'a',yA,ticksA,94,865,887,10,[
  {group:'low',box:boxALow,points:pointsALow},
  {group:'high',box:boxAHigh,points:pointsAHigh}
]);
drawPanel(document.getElementById('plotB'),'b',yB,ticksB,1168,1940,1962,11,[
  {group:'low',box:boxBLow,points:pointsBLow},
  {group:'high',box:boxBHigh,points:pointsBHigh}
]);

// heatmap colour scale
const scaleDomain = [0.02,0.12,0.5,0.6,0.7,0.8,0.93];
const scaleColors = [[255,166,182],[255,185,197],[253,253,253],[241,246,251],[231,244,248],[220,240,240],[205,235,233]];
function heatColor(v){
  let i=0; while(i<scaleDomain.length-2 && v>scaleDomain[i+1]) i++;
  const t=Math.max(0,Math.min(1,(v-scaleDomain[i])/(scaleDomain[i+1]-scaleDomain[i])));
  const c=scaleColors[i].map((a,k)=>Math.round(a+(scaleColors[i+1][k]-a)*t));
  return `rgb(${c[0]},${c[1]},${c[2]})`;
}
const heat=document.getElementById('heat');
const HX0=567, HCW=414.5, HY0=2156, HRH=171.25;
const rowLabelRight=[554,560,560,554];
const rowLabelY=[2254,2428,2594,2768];
const cellTextY=[[2251,2423,2595,2766],[2251,2420,2589,2766]];
[heatLow,heatHigh].forEach((col,c)=>{
  col.forEach((v,r)=>{
    const rect=mk('rect',heat);
    rect.setAttribute('x',HX0+c*HCW+(c?1:0)); rect.setAttribute('y',HY0+r*HRH+(r?1:0));
    rect.setAttribute('width',HCW-(c?1:0)); rect.setAttribute('height',HRH-(r?1:0));
    rect.setAttribute('fill',heatColor(v));
    
    
  });
});
[heatLowLabels,heatHighLabels].forEach((col,c)=>{
  col.forEach((s,r)=>{
    const tx=mk('text',heat);
    tx.textContent=s;
    tx.setAttribute('x',c?1183:773); tx.setAttribute('y',cellTextY[c][r]);
    tx.setAttribute('text-anchor','middle'); tx.setAttribute('font-size','35');
    tx.setAttribute('style','font-family:"Liberation Serif",serif');
    
    
  });
});
heatRows.forEach((s,r)=>{
  const tx=mk('text',heat);
  tx.textContent=s;
  tx.setAttribute('x',rowLabelRight[r]); tx.setAttribute('y',rowLabelY[r]);
  tx.setAttribute('text-anchor','end'); tx.setAttribute('font-size','34.5');
  
  
});
heatCols.forEach((s,c)=>{
  const tx=mk('text',heat);
  tx.textContent=s;
  tx.setAttribute('x',c?1182:765); tx.setAttribute('y',2881);
  tx.setAttribute('text-anchor','middle'); tx.setAttribute('font-size','34');
  
  
});
const cbY = v => 2596 - (v-0.2)*598;
colorbarTicks.forEach(t=>{
  const tx=mk('text',heat);
  tx.textContent=t.toFixed(1);
  tx.setAttribute('x',1491); tx.setAttribute('y',cbY(t)+(t===0.6?9:11));
  tx.setAttribute('font-size','33');
  
  
});
</script>
</body>
</html>
